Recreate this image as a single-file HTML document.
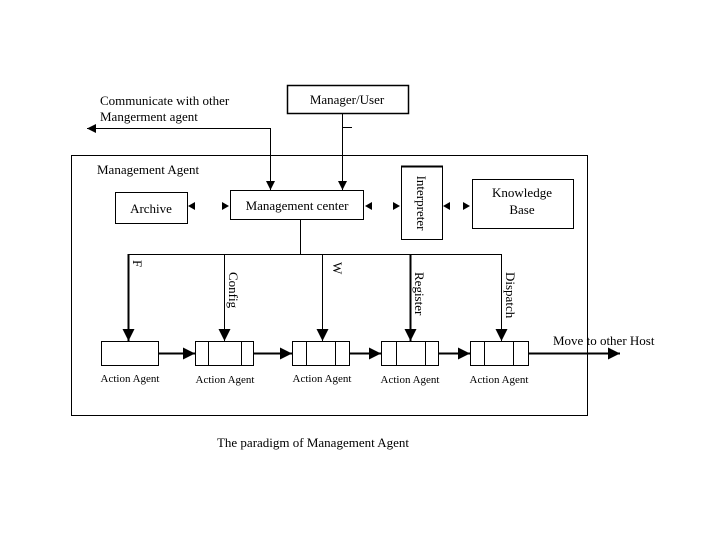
<!DOCTYPE html>
<html><head><meta charset="utf-8"><style>
html,body{margin:0;padding:0;background:#fff;}
svg{display:block;}
text{font-family:"Liberation Serif",serif;fill:#000;}
</style></head><body>
<svg width="720" height="540" viewBox="0 0 720 540" xmlns="http://www.w3.org/2000/svg">
<defs>
<marker id="a" viewBox="0 0 10 10" refX="10" refY="5" markerWidth="9" markerHeight="9" markerUnits="userSpaceOnUse" orient="auto"><path d="M0,0L10,5L0,10z" fill="#000"/></marker>
<marker id="b" viewBox="0 0 10 10" refX="10" refY="5" markerWidth="12" markerHeight="12" markerUnits="userSpaceOnUse" orient="auto"><path d="M0,0L10,5L0,10z" fill="#000"/></marker>
</defs>
<g fill="none" stroke="#000" stroke-width="1">
<rect x="71.5" y="155.5" width="516" height="260"/>
<rect x="287.5" y="85.5" width="121" height="28" stroke-width="1.5"/>
<rect x="115.5" y="192.5" width="72" height="31"/>
<rect x="230.5" y="190.5" width="133" height="29"/>
<rect x="401.5" y="166.5" width="41" height="73"/>
<line x1="401" y1="166.5" x2="443" y2="166.5" stroke-width="2"/>
<rect x="472.5" y="179.5" width="101" height="49"/>
<!-- boxes -->
<rect x="101.5" y="341.5" width="57" height="24"/>
<rect x="195.5" y="341.5" width="58" height="24"/><line x1="208.5" y1="341" x2="208.5" y2="366"/><line x1="241.5" y1="341" x2="241.5" y2="366"/>
<rect x="292.5" y="341.5" width="57" height="24"/><line x1="306.5" y1="341" x2="306.5" y2="366"/><line x1="335.5" y1="341" x2="335.5" y2="366"/>
<rect x="381.5" y="341.5" width="57" height="24"/><line x1="396.5" y1="341" x2="396.5" y2="366"/><line x1="425.5" y1="341" x2="425.5" y2="366"/>
<rect x="470.5" y="341.5" width="58" height="24"/><line x1="484.5" y1="341" x2="484.5" y2="366"/><line x1="513.5" y1="341" x2="513.5" y2="366"/>
<!-- top connections -->
<polyline points="270.5,190 270.5,128.5 87,128.5" marker-end="url(#a)"/>
<line x1="270.5" y1="128.5" x2="270.5" y2="190" marker-end="url(#a)"/>
<line x1="342.5" y1="113" x2="342.5" y2="190" marker-end="url(#a)"/>
<line x1="342" y1="127.5" x2="352" y2="127.5"/>
<!-- small arrowheads -->
<path d="M188,206l7,-4v8z M229,206l-7,-4v8z M365,206l7,-4v8z M400,206l-7,-4v8z M443,206l7,-4v8z M470,206l-7,-4v8z" fill="#000" stroke="none"/>
<!-- bus -->
<line x1="300.5" y1="219" x2="300.5" y2="254.5"/>
<line x1="128" y1="254.5" x2="501.5" y2="254.5"/>
<line x1="128.5" y1="254" x2="128.5" y2="341" stroke-width="2" marker-end="url(#b)"/>
<line x1="224.5" y1="254" x2="224.5" y2="341" marker-end="url(#b)"/>
<line x1="322.5" y1="254" x2="322.5" y2="341" marker-end="url(#b)"/>
<line x1="410.5" y1="254" x2="410.5" y2="341" stroke-width="2" marker-end="url(#b)"/>
<line x1="501.5" y1="254" x2="501.5" y2="341" marker-end="url(#b)"/>
<!-- chain -->
<line x1="158" y1="353.5" x2="195" y2="353.5" stroke-width="2" marker-end="url(#b)"/>
<line x1="253" y1="353.5" x2="292" y2="353.5" stroke-width="2" marker-end="url(#b)"/>
<line x1="349" y1="353.5" x2="381" y2="353.5" stroke-width="2" marker-end="url(#b)"/>
<line x1="438" y1="353.5" x2="470" y2="353.5" stroke-width="2" marker-end="url(#b)"/>
<line x1="528" y1="353.5" x2="620" y2="353.5" stroke-width="2" marker-end="url(#b)"/>
</g>
<g font-size="13">
<text x="100" y="105">Communicate with other</text>
<text x="100" y="121">Mangerment agent</text>
<text x="347" y="104" text-anchor="middle">Manager/User</text>
<text x="97" y="174">Management Agent</text>
<text x="151" y="213" text-anchor="middle">Archive</text>
<text x="297" y="210" text-anchor="middle">Management center</text>
<text x="522" y="197" text-anchor="middle">Knowledge</text>
<text x="522" y="214" text-anchor="middle">Base</text>
<text x="553" y="345">Move to other Host</text>
<text transform="translate(417,203) rotate(90)" text-anchor="middle">Interpreter</text>
<text transform="translate(133,260) rotate(90)">F</text>
<text transform="translate(229,272) rotate(90)">Config</text>
<text transform="translate(333,262) rotate(90)">W</text>
<text transform="translate(415,272) rotate(90)">Register</text>
<text transform="translate(506,272) rotate(90)">Dispatch</text>
<text x="313" y="447" text-anchor="middle">The paradigm of Management Agent</text>
</g>
<g font-size="11">
<text x="130" y="382" text-anchor="middle">Action Agent</text>
<text x="225" y="383" text-anchor="middle">Action Agent</text>
<text x="322" y="382" text-anchor="middle">Action Agent</text>
<text x="410" y="383" text-anchor="middle">Action Agent</text>
<text x="499" y="383" text-anchor="middle">Action Agent</text>
</g>
</svg>
</body></html>
